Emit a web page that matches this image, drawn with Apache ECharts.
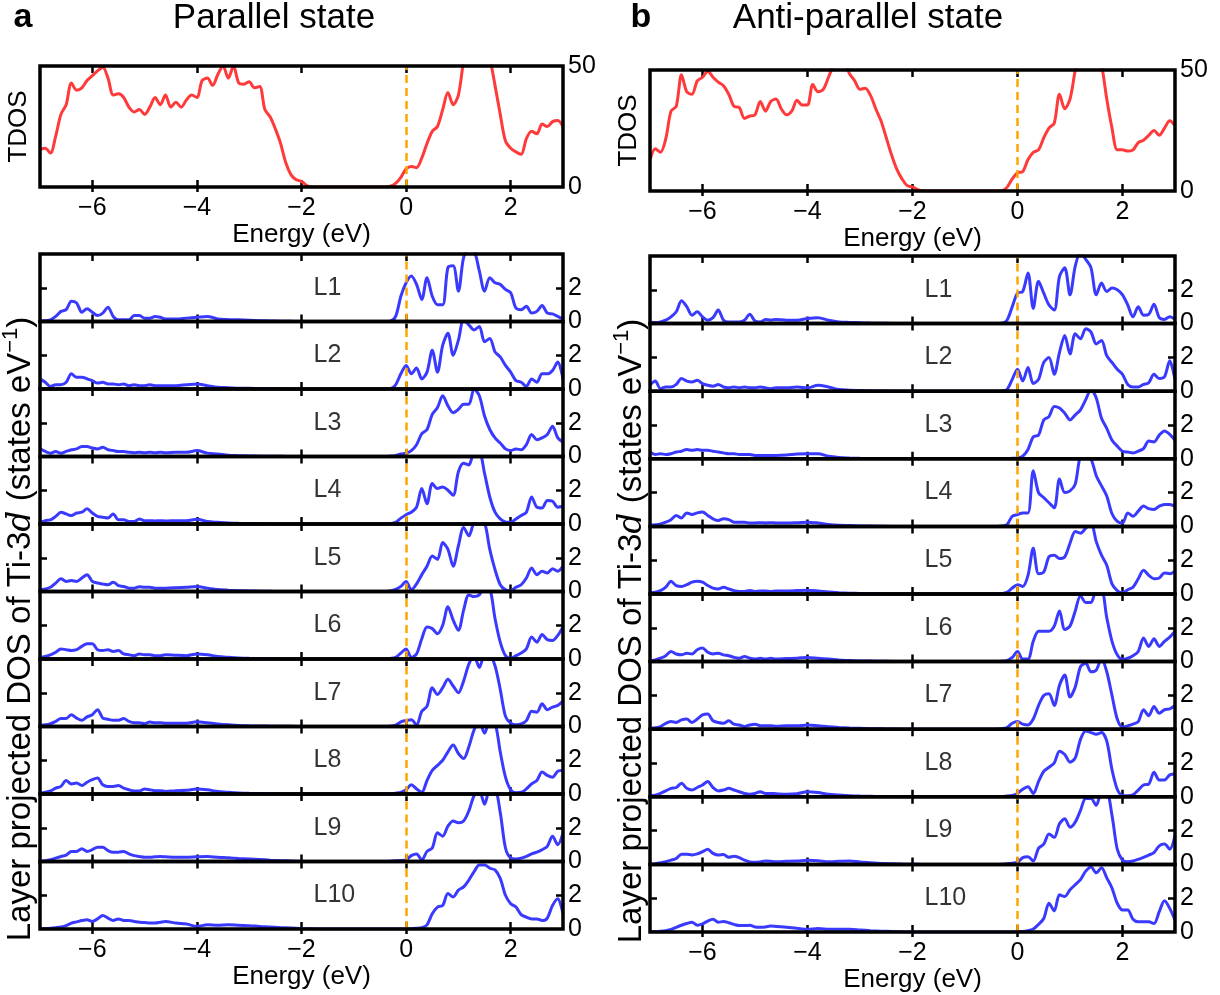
<!DOCTYPE html>
<html>
<head>
<meta charset="utf-8">
<title>Layer projected DOS</title>
<script src="https://cdn.jsdelivr.net/npm/echarts@6/dist/echarts.min.js"></script>
<style>
  html, body { margin: 0; padding: 0; background: #fff; }
  #chart { width: 1220px; height: 995px; }
</style>
</head>
<body>
<div id="chart"></div>
<script>
// sampling grids (eV): TDOS every 0.1 eV, layer PDOS finer near the bands
function steps(from, to, step) {
  const out = []
  const n = Math.round((to - from) / step)
  for (let i = 0; i <= n; i++) out.push(Math.round((from + i * step) * 100) / 100)
  return out
}
const energyTdos = steps(-7, 3, 0.1)
const energyLayer = steps(-7, -4.6, 0.1).concat(steps(-4.4, -0.6, 0.2), steps(-0.5, 3, 0.1))

const energyTicks = [-6, -4, -2, 0, 2]
const tdosLabels = [0, 50]
const layerLabels = [0, 2]
const layerTicks = [2]
const layerNames = ['L1', 'L2', 'L3', 'L4', 'L5', 'L6', 'L7', 'L8', 'L9', 'L10']
const layerNameAt = [-1.78, 2]

// total DOS, -7 .. 3 eV
const tdosParallel = [
  15.5, 16, 14, 21, 30, 34, 43, 40, 41, 44,
  46, 48, 49.5, 45, 38, 38.5, 37, 33, 31, 32,
  30, 33, 37, 34, 38, 33, 35, 33, 36, 38,
  37, 44, 45, 42, 46.5, 50, 45, 50, 43, 42.5,
  43.5, 41, 41.5, 32, 29, 24, 18, 10, 5, 3,
  2.3, 0.6, 0, 0, 0, 0, 0, 0, 0, 0,
  0, 0, 0, 0, 0, 0, 0, 0.3, 1.5, 4,
  7.5, 8.5, 8, 12, 18, 23, 25, 32, 39, 34,
  38, 52, 60, 62, 60, 58, 53, 42, 30, 19,
  16, 14.5, 13.5, 20, 23, 22, 26, 25, 27, 27.5, 25
]
const tdosAntiparallel = [
  12.8, 17.5, 16, 21.5, 33, 35, 48, 41, 40, 45.5,
  47, 49.5, 47, 45, 43.5, 40, 35, 34.5, 30, 31,
  31.5, 37, 33, 37, 38, 34, 31.5, 33, 37.5, 35.5,
  35.5, 44, 41, 42, 47, 52, 55, 53, 48.5, 45.5,
  42, 42.5, 39.5, 34, 29, 22, 15, 9, 5, 2.2,
  1.7, 0.6, 0.1, 0, 0, 0, 0, 0, 0, 0,
  0, 0, 0, 0, 0, 0, 0, 0.1, 1.5, 5,
  7.5, 8, 13, 16, 17, 22, 26, 28, 40, 34,
  38, 50, 60, 62, 60, 57, 52, 38, 26, 17,
  17, 16.5, 17, 20, 21, 23, 25, 23, 26, 29, 27
]

// layer projected Ti-3d DOS, parallel state
const parL1 = [
  0.05, 0.05, 0.1, 0.3, 0.6, 0.7, 1.2, 1.1, 0.55, 0.75, 0.55, 0.35, 0.5, 0.85, 0.3, 0.1, 0.1, 0.1, 0.35, 0.35, 0.2, 0.2, 0.3, 0.25, 0.15,
  0.15, 0.2, 0.25, 0.3, 0.15, 0.12, 0.1, 0.08, 0.05, 0.03, 0.02, 0.01, 0, 0, 0, 0, 0, 0, 0, 0,
  0, 0, 0.02, 0.3, 1.5, 2.3, 2.7, 2.2, 1.3, 2.6, 1.5, 1.0, 1.0, 3.2, 3.3, 1.8, 3.8, 4.3, 4.2, 3.0,
  1.8, 2.6, 2.3, 2.2, 1.9, 1.7, 0.8, 0.7, 0.9, 0.5, 0.6, 0.95, 0.5, 0.45, 0.3, 0.15
]
const parL2 = [
  0.6, 0.4, 0.15, 0.25, 0.25, 0.4, 0.9, 0.7, 0.7, 0.6, 0.5, 0.35, 0.4, 0.3, 0.3, 0.25, 0.3, 0.2, 0.25, 0.2, 0.2, 0.25, 0.2, 0.2, 0.2,
  0.2, 0.25, 0.3, 0.2, 0.1, 0.08, 0.05, 0.04, 0.03, 0.02, 0.01, 0, 0, 0, 0, 0, 0, 0, 0, 0,
  0, 0, 0.02, 0.25, 0.9, 1.4, 0.9, 1.25, 0.6, 1.0, 2.3, 1.0, 2.6, 3.3, 2.0, 2.9, 4.1, 3.8, 3.5, 3.7,
  2.8, 3.0, 2.2, 1.9, 1.4, 1.0, 0.5, 0.4, 0.15, 0.6, 0.4, 0.9, 0.9, 1.1, 1.6, 0.6
]
const parL3 = [
  0.45, 0.3, 0.2, 0.3, 0.2, 0.3, 0.4, 0.45, 0.6, 0.6, 0.5, 0.45, 0.55, 0.4, 0.35, 0.3, 0.3, 0.25, 0.22, 0.25, 0.22, 0.25, 0.22, 0.25, 0.22,
  0.25, 0.25, 0.35, 0.2, 0.15, 0.08, 0.05, 0.03, 0.02, 0.01, 0.01, 0, 0, 0, 0, 0, 0, 0, 0, 0,
  0, 0, 0.02, 0.05, 0.15, 0.2, 0.35, 0.7, 1.35, 1.6, 2.5, 2.9, 3.6, 3.0, 2.6, 2.8, 3.1, 3.1, 4.0, 3.6,
  2.4, 1.6, 1.1, 0.8, 0.45, 0.35, 0.45, 0.4, 0.7, 1.3, 1.0, 1.1, 1.3, 1.8, 1.1, 0.85
]
const parL4 = [
  0.1, 0.2, 0.25, 0.45, 0.7, 0.6, 0.5, 0.65, 0.7, 0.9, 0.65, 0.45, 0.4, 0.35, 0.6, 0.25, 0.25, 0.15, 0.15, 0.3, 0.2, 0.2, 0.18, 0.2, 0.18,
  0.2, 0.2, 0.28, 0.15, 0.1, 0.06, 0.04, 0.03, 0.02, 0.01, 0, 0, 0, 0, 0, 0, 0, 0, 0, 0,
  0, 0, 0.02, 0.1, 0.35, 0.55, 0.7, 1.0, 2.1, 1.2, 2.4, 2.1, 2.2, 2.0, 1.7, 3.1, 3.6, 3.5, 4.2, 4.2,
  3.0, 1.6, 0.7, 0.3, 0.12, 0.1, 0.3, 0.5, 0.7, 1.6, 1.0, 0.95, 1.4, 1.35, 1.0, 1.05
]
const parL5 = [
  0.1, 0.15, 0.25, 0.5, 0.75, 0.6, 0.65, 0.6, 0.8, 1.0, 0.6, 0.5, 0.45, 0.4, 0.55, 0.35, 0.3, 0.2, 0.2, 0.28, 0.25, 0.25, 0.2, 0.2, 0.2,
  0.22, 0.25, 0.3, 0.2, 0.12, 0.08, 0.05, 0.03, 0.02, 0.01, 0, 0, 0, 0, 0, 0, 0, 0, 0, 0,
  0, 0, 0.03, 0.12, 0.3, 0.6, 0.1, 0.45, 1.0, 1.5, 2.1, 1.9, 2.9, 2.5, 1.5, 2.7, 3.8, 3.3, 4.1, 4.3,
  4.1, 2.5, 1.3, 0.4, 0.1, 0.05, 0.25, 0.4, 0.8, 1.4, 1.0, 1.2, 1.1, 1.35, 1.2, 1.5
]
const parL6 = [
  0.08, 0.15, 0.25, 0.4, 0.6, 0.55, 0.5, 0.55, 0.75, 0.9, 0.9, 0.55, 0.5, 0.55, 0.45, 0.5, 0.3, 0.25, 0.2, 0.3, 0.25, 0.25, 0.2, 0.2, 0.25,
  0.22, 0.2, 0.3, 0.25, 0.15, 0.1, 0.06, 0.04, 0.03, 0.02, 0.01, 0, 0, 0, 0, 0, 0, 0, 0, 0,
  0, 0, 0.03, 0.1, 0.35, 0.6, 0.1, 0.3, 1.2, 1.9, 1.8, 1.5, 2.0, 3.1, 2.3, 1.7, 2.9, 3.8, 3.7, 3.8,
  4.3, 4.2, 2.4, 1.0, 0.2, 0.04, 0.2, 0.35, 0.6, 1.3, 1.0, 1.45, 1.15, 1.1, 1.4, 1.9
]
const parL7 = [
  0.06, 0.1, 0.16, 0.3, 0.47, 0.47, 0.7, 0.5, 0.37, 0.57, 0.7, 1.0, 0.5, 0.43, 0.37, 0.37, 0.47, 0.3, 0.22, 0.22, 0.16, 0.26, 0.22, 0.22, 0.2,
  0.2, 0.2, 0.28, 0.22, 0.15, 0.1, 0.06, 0.04, 0.03, 0.02, 0.01, 0.01, 0, 0, 0, 0, 0, 0, 0, 0,
  0, 0, 0.02, 0.08, 0.28, 0.35, 0.4, 0.1, 0.9, 1.2, 2.3, 1.9, 2.3, 2.8, 2.4, 2.0, 2.7, 3.7, 4.2, 3.5,
  4.2, 4.2, 3.6, 2.2, 0.6, 0.2, 0.1, 0.15, 0.35, 0.9, 0.85, 1.35, 1.0, 1.15, 1.25, 1.5
]
const parL8 = [
  0.04, 0.1, 0.18, 0.35, 0.45, 0.8, 0.6, 0.65, 0.5, 0.7, 0.85, 0.95, 0.55, 0.45, 0.45, 0.5, 0.35, 0.25, 0.18, 0.18, 0.3, 0.25, 0.2, 0.2, 0.15,
  0.2, 0.22, 0.3, 0.25, 0.15, 0.1, 0.06, 0.04, 0.03, 0.02, 0.01, 0, 0, 0, 0, 0, 0, 0, 0, 0,
  0, 0, 0.02, 0.05, 0.1, 0.25, 0.55, 0.3, 0.1, 0.8, 1.4, 1.7, 2.0, 2.5, 2.9, 2.4, 2.1, 2.8, 3.8, 4.3,
  3.6, 4.3, 4.2, 2.5, 1.0, 0.25, 0.08, 0.1, 0.3, 0.6, 0.8, 1.3, 1.1, 1.0, 1.35, 1.4
]
const parL9 = [
  0.02, 0.04, 0.1, 0.2, 0.3, 0.38, 0.6, 0.6, 0.75, 0.6, 0.7, 0.85, 0.85, 0.65, 0.55, 0.55, 0.6, 0.45, 0.35, 0.3, 0.25, 0.25, 0.28, 0.3, 0.28,
  0.25, 0.25, 0.28, 0.3, 0.25, 0.22, 0.18, 0.15, 0.12, 0.08, 0.05, 0.03, 0.01, 0, 0, 0, 0, 0, 0, 0,
  0, 0, 0.01, 0.04, 0.06, 0.1, 0.35, 0.45, 0.1, 0.6, 0.8, 1.7, 1.5, 2.1, 2.4, 2.3, 2.4, 3.0, 3.9, 4.2,
  3.4, 4.2, 4.2, 2.9, 0.8, 0.2, 0.15, 0.2, 0.3, 0.45, 0.55, 0.7, 0.9, 1.5, 1.0, 1.7
]
const parL10 = [
  0.02, 0.03, 0.05, 0.08, 0.12, 0.2, 0.35, 0.42, 0.5, 0.55, 0.45, 0.6, 0.8, 0.65, 0.5, 0.6, 0.5, 0.5, 0.45, 0.4, 0.38, 0.35, 0.35, 0.4, 0.45,
  0.35, 0.3, 0.15, 0.25, 0.22, 0.25, 0.22, 0.2, 0.15, 0.12, 0.08, 0.06, 0.02, 0.01, 0, 0, 0, 0, 0, 0,
  0, 0, 0, 0, 0, 0, 0.02, 0.04, 0.08, 0.25, 0.9, 1.3, 1.4, 2.1, 1.9, 2.3, 2.5, 2.9, 3.4, 3.8,
  3.8, 3.6, 3.5, 3.0, 2.0, 1.5, 1.3, 0.85, 0.7, 0.6, 0.6, 0.5, 0.65, 1.4, 1.8, 0.9
]

// layer projected Ti-3d DOS, anti-parallel state
const antiL1 = [
  0.1, 0.06, 0.1, 0.2, 0.4, 0.7, 1.35, 1.0, 0.5, 0.7, 0.4, 0.2, 0.35, 0.8, 0.2, 0.1, 0.1, 0.1, 0.2, 0.55, 0.15, 0.1, 0.25, 0.2, 0.25,
  0.2, 0.2, 0.3, 0.35, 0.2, 0.1, 0.07, 0.05, 0.03, 0.02, 0.01, 0, 0, 0, 0, 0, 0, 0, 0, 0,
  0, 0, 0.02, 0.2, 1.0, 1.8, 1.9, 3.0, 0.9, 2.5, 1.8, 1.1, 0.8, 2.8, 3.3, 1.7, 3.4, 4.2, 3.8, 3.3,
  1.7, 2.4, 1.9, 2.1, 2.0, 1.7, 1.1, 0.4, 1.0, 0.5, 0.55, 1.15, 0.35, 0.25, 0.4, 0.25
]
const antiL2 = [
  0.35, 0.6, 0.15, 0.25, 0.25, 0.4, 0.75, 0.6, 0.55, 0.65, 0.45, 0.35, 0.3, 0.4, 0.25, 0.2, 0.25, 0.2, 0.25, 0.2, 0.2, 0.25, 0.2, 0.15, 0.2,
  0.2, 0.25, 0.2, 0.35, 0.25, 0.1, 0.06, 0.04, 0.02, 0.01, 0, 0, 0, 0, 0, 0, 0, 0, 0, 0,
  0, 0, 0.02, 0.1, 0.7, 1.3, 0.6, 1.4, 0.45, 0.7, 1.7, 2.0, 1.0, 2.3, 3.3, 2.2, 3.4, 3.1, 3.7, 3.5,
  2.8, 3.0, 2.1, 1.7, 1.3, 1.0, 0.4, 0.25, 0.25, 0.4, 0.5, 1.0, 0.75, 0.85, 1.8, 0.7
]
const antiL3 = [
  0.4, 0.25, 0.3, 0.25, 0.3, 0.4, 0.45, 0.55, 0.5, 0.55, 0.5, 0.5, 0.45, 0.4, 0.35, 0.3, 0.3, 0.25, 0.25, 0.25, 0.2, 0.2, 0.2, 0.2, 0.2,
  0.22, 0.28, 0.3, 0.3, 0.15, 0.08, 0.05, 0.03, 0.02, 0.01, 0, 0, 0, 0, 0, 0, 0, 0, 0, 0,
  0, 0, 0, 0.01, 0.03, 0.05, 0.15, 0.55, 1.3, 1.4, 2.3, 2.5, 3.1, 3.0, 2.7, 2.3, 2.6, 2.9, 3.5, 4.1,
  3.6, 2.4, 1.8, 1.1, 0.75, 0.45, 0.4, 0.35, 0.45, 0.6, 1.05, 1.0, 1.4, 1.65, 1.45, 1.1
]
const antiL4 = [
  0.08, 0.1, 0.15, 0.25, 0.4, 0.65, 0.5, 0.8, 0.7, 0.8, 0.85, 0.65, 0.45, 0.35, 0.45, 0.4, 0.25, 0.25, 0.25, 0.2, 0.2, 0.22, 0.2, 0.22, 0.2,
  0.2, 0.22, 0.25, 0.2, 0.12, 0.07, 0.05, 0.03, 0.02, 0.01, 0, 0, 0, 0, 0, 0, 0, 0, 0, 0,
  0, 0, 0.02, 0.1, 0.6, 0.7, 0.8, 0.8, 3.3, 2.0, 1.7, 1.4, 1.1, 2.8, 2.0, 2.1, 2.5, 4.2, 4.3, 4.0,
  3.0, 2.4, 1.8, 0.75, 0.3, 0.2, 0.8, 0.6, 0.9, 1.2, 1.05, 1.0, 1.2, 1.3, 1.3, 1.2
]
const antiL5 = [
  0.06, 0.1, 0.2, 0.4, 0.75, 0.5, 0.45, 0.55, 0.7, 0.75, 0.7, 0.5, 0.35, 0.3, 0.4, 0.3, 0.2, 0.15, 0.15, 0.2, 0.15, 0.18, 0.18, 0.15, 0.18,
  0.18, 0.2, 0.22, 0.18, 0.12, 0.08, 0.05, 0.03, 0.02, 0.01, 0, 0, 0, 0, 0, 0, 0, 0, 0, 0,
  0, 0, 0.02, 0.1, 0.35, 0.55, 0.45, 1.1, 2.7, 1.2, 1.3, 2.2, 2.3, 2.1, 2.2, 3.0, 3.7, 3.6, 3.9, 4.2,
  3.1, 2.3, 1.7, 0.6, 0.2, 0.07, 0.25, 0.4, 0.9, 1.4, 1.1, 0.9, 0.95, 1.25, 1.2, 1.35
]
const antiL6 = [
  0.04, 0.1, 0.2, 0.35, 0.6, 0.45, 0.4, 0.5, 0.45, 0.7, 0.8, 0.55, 0.45, 0.5, 0.4, 0.35, 0.25, 0.2, 0.3, 0.2, 0.15, 0.2, 0.15, 0.2, 0.15,
  0.18, 0.2, 0.25, 0.2, 0.15, 0.1, 0.06, 0.04, 0.03, 0.02, 0.01, 0, 0, 0, 0, 0, 0, 0, 0, 0,
  0, 0, 0.02, 0.06, 0.25, 0.6, 0.15, 0.15, 1.2, 1.8, 1.8, 1.8, 2.1, 3.0, 1.9, 2.1, 3.0, 3.9, 3.5, 3.5,
  4.2, 4.2, 2.6, 1.2, 0.4, 0.12, 0.2, 0.35, 0.6, 1.4, 0.9, 1.35, 0.9, 1.2, 1.45, 1.8
]
const antiL7 = [
  0.04, 0.08, 0.15, 0.35, 0.45, 0.4, 0.55, 0.6, 0.4, 0.6, 0.85, 0.9, 0.5, 0.4, 0.35, 0.5, 0.3, 0.25, 0.15, 0.25, 0.3, 0.2, 0.2, 0.2, 0.17,
  0.2, 0.2, 0.25, 0.2, 0.14, 0.1, 0.07, 0.05, 0.03, 0.02, 0.01, 0, 0, 0, 0, 0, 0, 0, 0, 0,
  0, 0, 0.03, 0.1, 0.35, 0.45, 0.3, 0.25, 0.6, 1.4, 2.0, 2.1, 1.4, 2.6, 3.2, 1.9, 2.5, 3.7, 3.9, 3.4,
  3.5, 4.2, 3.4, 2.0, 0.6, 0.12, 0.2, 0.3, 0.45, 1.15, 0.8, 1.35, 0.95, 1.15, 1.2, 1.4
]
const antiL8 = [
  0.06, 0.1, 0.2, 0.35, 0.5, 0.55, 0.8, 0.5, 0.4, 0.55, 0.7, 0.9, 0.55, 0.35, 0.4, 0.5, 0.4, 0.3, 0.2, 0.15, 0.2, 0.3, 0.2, 0.2, 0.18,
  0.15, 0.18, 0.3, 0.25, 0.15, 0.1, 0.06, 0.04, 0.03, 0.02, 0.01, 0, 0, 0, 0, 0, 0, 0, 0, 0,
  0, 0, 0.02, 0.05, 0.08, 0.2, 0.45, 0.6, 0.2, 0.9, 1.5, 1.75, 2.0, 2.7, 2.5, 2.05, 2.3, 3.4, 3.9, 3.8,
  3.7, 3.8, 3.3, 1.6, 0.45, 0.08, 0.06, 0.12, 0.4, 0.7, 0.75, 1.45, 1.0, 1.0, 1.3, 1.35
]
const antiL9 = [
  0.01, 0.04, 0.1, 0.16, 0.25, 0.35, 0.6, 0.6, 0.56, 0.62, 0.75, 0.9, 0.65, 0.55, 0.58, 0.42, 0.48, 0.4, 0.25, 0.15, 0.12, 0.15, 0.2, 0.18, 0.16,
  0.18, 0.2, 0.24, 0.22, 0.16, 0.18, 0.2, 0.14, 0.1, 0.06, 0.04, 0.02, 0.01, 0, 0, 0, 0, 0, 0, 0,
  0, 0, 0.01, 0.04, 0.07, 0.12, 0.4, 0.45, 0.2, 0.95, 1.2, 1.8, 1.6, 2.4, 2.7, 2.2, 2.5, 3.2, 3.9, 3.9,
  3.5, 4.2, 4.2, 2.9, 0.9, 0.25, 0.15, 0.2, 0.3, 0.42, 0.55, 0.7, 1.1, 1.2, 0.9, 1.7
]
const antiL10 = [
  0.01, 0.02, 0.04, 0.08, 0.15, 0.28, 0.4, 0.5, 0.58, 0.4, 0.48, 0.65, 0.75, 0.58, 0.62, 0.55, 0.45, 0.38, 0.38, 0.4, 0.3, 0.28, 0.3, 0.35, 0.33,
  0.28, 0.22, 0.16, 0.2, 0.17, 0.16, 0.16, 0.12, 0.08, 0.05, 0.03, 0.01, 0, 0, 0, 0, 0, 0, 0, 0,
  0, 0, 0, 0, 0, 0.02, 0.03, 0.08, 0.18, 0.45, 0.8, 1.7, 1.25, 2.2, 2.1, 2.5, 2.8, 3.1, 3.6, 3.85,
  3.5, 3.8, 3.2, 2.6, 1.7, 1.3, 1.3, 0.75, 0.6, 0.6, 0.6, 0.5, 1.2, 1.85, 1.4, 0.7
]

const FONT = '"Liberation Sans", Arial, Helvetica, sans-serif'
const BLUE = '#3a3aff'
const RED = '#ff3a3a'
const ORANGE = '#ffa500'

function toPairs(xs, ys) {
  const n = Math.min(xs.length, ys.length)
  const out = []
  for (let i = 0; i < n; i++) out.push([xs[i], ys[i]])
  return out
}
function fmtEnergy(v) {
  return v < 0 ? '\u2212' + Math.abs(v) : String(v)
}

const panels = [
  {
    letter: 'a', letterX: 23, title: 'Parallel state', titleX: 274,
    left: 40, width: 523, tdosTop: 66, tdosHeight: 121, layerTop: 254, layerHeight: 67.5,
    yLabelX: 21, yLabelY: 629,
    tdos: tdosParallel,
    layers: [parL1, parL2, parL3, parL4, parL5, parL6, parL7, parL8, parL9, parL10]
  },
  {
    letter: 'b', letterX: 641, title: 'Anti-parallel state', titleX: 868,
    left: 650, width: 525, tdosTop: 70, tdosHeight: 121, layerTop: 256, layerHeight: 67.6,
    yLabelX: 632, yLabelY: 631,
    tdos: tdosAntiparallel,
    layers: [antiL1, antiL2, antiL3, antiL4, antiL5, antiL6, antiL7, antiL8, antiL9, antiL10]
  }
]

const grid = []
const xAxis = []
const yAxis = []
const series = []
const graphic = []
const tickStyle = { color: '#000', width: 2.5 }
const noLine = { show: false, onZero: false }

function addBox(left, top, width, height, opt) {
  const gi = grid.length
  grid.push({
    left: left, top: top, width: width, height: height,
    show: true, borderColor: '#000', borderWidth: 3.5, backgroundColor: 'transparent', z: 10
  })
  const xi = xAxis.length
  xAxis.push({
    gridIndex: gi, type: 'value', position: 'bottom', min: -7, max: 3,
    axisLine: noLine, splitLine: { show: false },
    axisTick: { show: true, inside: true, length: 7, customValues: energyTicks, lineStyle: tickStyle },
    axisLabel: {
      show: opt.xLabels, customValues: energyTicks, formatter: fmtEnergy,
      color: '#000', fontSize: 25, fontFamily: FONT, margin: 9
    },
    name: opt.xLabels ? 'Energy (eV)' : '', nameLocation: 'middle', nameGap: 33,
    nameTextStyle: { color: '#000', fontSize: 26, fontFamily: FONT }
  })
  xAxis.push({
    gridIndex: gi, type: 'value', position: 'top', min: -7, max: 3,
    axisLine: noLine, splitLine: { show: false },
    axisTick: { show: true, inside: true, length: 7, customValues: energyTicks, lineStyle: tickStyle },
    axisLabel: { show: false }
  })
  if (opt.xLabels) {
    // short outward ticks under the bottom frame
    xAxis.push({
      gridIndex: gi, type: 'value', position: 'bottom', min: -7, max: 3,
      axisLine: noLine, splitLine: { show: false },
      axisTick: { show: true, inside: false, length: 5, customValues: energyTicks, lineStyle: tickStyle },
      axisLabel: { show: false }
    })
  }
  const yi = yAxis.length
  yAxis.push({
    gridIndex: gi, type: 'value', position: 'left', min: 0, max: opt.yMax,
    axisLine: noLine, splitLine: { show: false },
    axisTick: { show: !!opt.yTicks, inside: true, length: 7, customValues: opt.yTicks || [], lineStyle: tickStyle },
    axisLabel: { show: false },
    name: opt.yName || '', nameLocation: 'middle', nameRotate: 90, nameGap: 8,
    nameTextStyle: { color: '#000', fontSize: 26, fontFamily: FONT }
  })
  yAxis.push({
    gridIndex: gi, type: 'value', position: 'right', min: 0, max: opt.yMax,
    axisLine: noLine, splitLine: { show: false },
    axisTick: { show: !!opt.yTicks, inside: true, length: 7, customValues: opt.yTicks || [], lineStyle: tickStyle },
    axisLabel: { show: true, customValues: opt.yLabels, color: '#000', fontSize: 25, fontFamily: FONT, margin: 5 }
  })
  return { xi: xi, yi: yi }
}

function addCurve(ax, xs, ys, color) {
  series.push({
    type: 'line', xAxisIndex: ax.xi, yAxisIndex: ax.yi,
    data: toPairs(xs, ys),
    showSymbol: false, symbol: 'none', smooth: 0.3, clip: true, silent: true, animation: false, z: 3,
    lineStyle: { color: color, width: 3 },
    markLine: {
      silent: true, symbol: 'none', animation: false,
      label: { show: false },
      lineStyle: { color: ORANGE, type: [8, 5], width: 2.5 },
      data: [{ xAxis: 0 }]
    }
  })
}

panels.forEach(function (p) {
  const tdosAx = addBox(p.left, p.tdosTop, p.width, p.tdosHeight, {
    yMax: 50, yLabels: tdosLabels, xLabels: true, yName: 'TDOS'
  })
  addCurve(tdosAx, energyTdos, p.tdos, RED)

  p.layers.forEach(function (vals, i) {
    const ax = addBox(p.left, p.layerTop + i * p.layerHeight, p.width, p.layerHeight, {
      yMax: 4, yLabels: layerLabels, yTicks: layerTicks, xLabels: i === p.layers.length - 1
    })
    addCurve(ax, energyLayer, vals, BLUE)
    series.push({
      type: 'scatter', xAxisIndex: ax.xi, yAxisIndex: ax.yi,
      data: [layerNameAt], symbolSize: 1, itemStyle: { color: 'rgba(0,0,0,0)' },
      silent: true, animation: false, z: 4,
      label: {
        show: true, position: 'right', distance: 0, formatter: layerNames[i],
        color: '#000', fontSize: 25, fontFamily: FONT
      }
    })
  })

  graphic.push({
    type: 'text', x: p.letterX, y: 18,
    style: { text: p.letter, fill: '#000', fontSize: 34, fontWeight: 'bold', fontFamily: FONT, align: 'center', verticalAlign: 'middle' }
  })
  graphic.push({
    type: 'text', x: p.titleX, y: 18,
    style: { text: p.title, fill: '#000', fontSize: 35, fontFamily: FONT, align: 'center', verticalAlign: 'middle' }
  })
  graphic.push({
    type: 'text', x: p.yLabelX, y: p.yLabelY, rotation: Math.PI / 2,
    style: {
      text: '{n|Layer projected DOS of Ti-3}{d|d}{n| (states eV}{s|\u22121}{n|)}',
      fill: '#000', align: 'center', verticalAlign: 'middle',
      rich: {
        n: { fontSize: 33, fontFamily: FONT, lineHeight: 43, verticalAlign: 'middle' },
        d: { fontSize: 33, fontFamily: '"DejaVu Serif", serif', fontStyle: 'italic', lineHeight: 43, verticalAlign: 'middle' },
        s: { fontSize: 22, fontFamily: FONT, lineHeight: 23, verticalAlign: 'top' }
      }
    }
  })
})

const chart = echarts.init(document.getElementById('chart'), null, { renderer: 'canvas' })
chart.setOption({
  animation: false,
  backgroundColor: '#fff',
  grid: grid,
  xAxis: xAxis,
  yAxis: yAxis,
  series: series,
  graphic: graphic
})
</script>
</body>
</html>
